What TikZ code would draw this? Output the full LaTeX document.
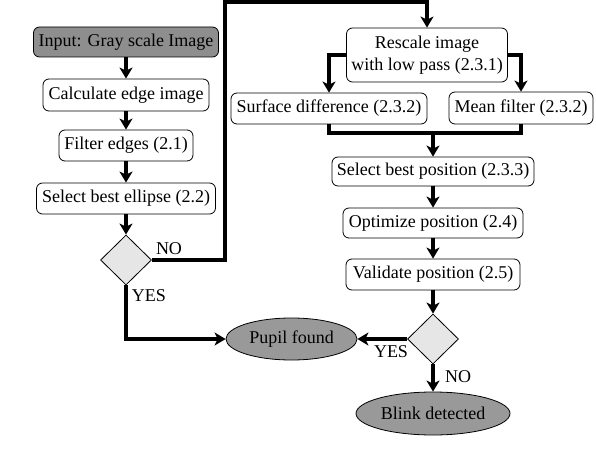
\documentclass[tikz,border=0pt]{standalone}
\usepackage{fontspec}
\setmainfont{Liberation Serif}
\usetikzlibrary{shapes.geometric,arrows.meta}
\definecolor{dgray}{HTML}{8E8E8E}
\definecolor{egray}{HTML}{999999}
\definecolor{lgray}{HTML}{E6E6E6}
\begin{document}
\begin{tikzpicture}[x=1pt,y=-1pt,
  every node/.style={font=\fontsize{18}{22}\selectfont},
  box/.style={draw,rounded corners=6pt,line width=0.8pt,inner sep=0pt,align=center},
  dia/.style={draw,diamond,fill=lgray,line width=0.8pt,inner sep=0pt,minimum width=51pt,minimum height=50pt},
  oval/.style={draw,ellipse,fill=egray,line width=0.8pt,inner sep=0pt},
  conn/.style={line width=4pt},
  arr/.style={line width=4pt,-{Stealth[length=11pt,width=13pt,inset=3pt]}},
  lbl/.style={inner sep=0pt}]
\useasboundingbox (0,0) rectangle (596,470);
\fill[white] (0,0) rectangle (596,470);
% left column
\node[box,fill=dgray,minimum width=185pt,minimum height=30pt] (in) at (126,42) {Input: Gray scale Image};
\node[box,minimum width=166pt,minimum height=32pt] (calc) at (126,95) {Calculate edge image};
\node[box,minimum width=134pt,minimum height=31pt] (filt) at (126,145.5) {Filter edges (2.1)};
\node[box,minimum width=179pt,minimum height=31pt] (sel) at (126,198.5) {Select best ellipse (2.2)};
\node[dia] (d1) at (126,260) {};
% right column
\node[box,minimum width=161pt,minimum height=54pt] (resc) at (427,55) {Rescale image\\with low pass (2.3.1)};
\node[box,minimum width=196pt,minimum height=31pt] (surf) at (329,108.5) {Surface difference (2.3.2)};
\node[box,minimum width=144pt,minimum height=32pt] (mean) at (521,108) {Mean filter (2.3.2)};
\node[box,minimum width=202pt,minimum height=29pt] (best) at (433,171.5) {Select best position (2.3.3)};
\node[box,minimum width=180pt,minimum height=30pt] (opt) at (433,223) {Optimize position (2.4)};
\node[box,minimum width=174pt,minimum height=31pt] (val) at (433,274.5) {Validate position (2.5)};
\node[dia] (d2) at (433,339) {};
\node[oval,minimum width=131pt,minimum height=42pt] (pupil) at (291.5,339) {Pupil found};
\node[oval,minimum width=154pt,minimum height=43pt] (blink) at (433,413.5) {Blink detected};
% labels
\node[lbl] (no1) at (169,249) {NO};
\node[lbl] (yes1) at (149,296) {YES};
\node[lbl] (yes2) at (391,352) {YES};
\node[lbl] (no2) at (458,377) {NO};
% coordinates
\coordinate (c1) at (225,2);
\coordinate (j) at (433,133);
% connectors
\draw[arr] (in) -- (calc);
\draw[arr] (calc) -- (filt);
\draw[arr] (filt) -- (sel);
\draw[arr] (sel) -- (d1);
\draw[arr] (d1.east) -| (c1) -| (resc.north);
\draw[arr] (resc.west) -| (surf.north);
\draw[arr] (resc.east) -| (mean.north);
\draw[conn] (surf.south) |- (j) -| (mean.south);
\draw[arr] (j) -- (best.north);
\draw[arr] (best) -- (opt);
\draw[arr] (opt) -- (val);
\draw[arr] (val) -- (d2);
\draw[arr] (d2.west) -- (pupil.east);
\draw[arr] (d2.south) -- (blink.north);
\draw[arr] (d1.south) |- (pupil.west);
\end{tikzpicture}
\end{document}
